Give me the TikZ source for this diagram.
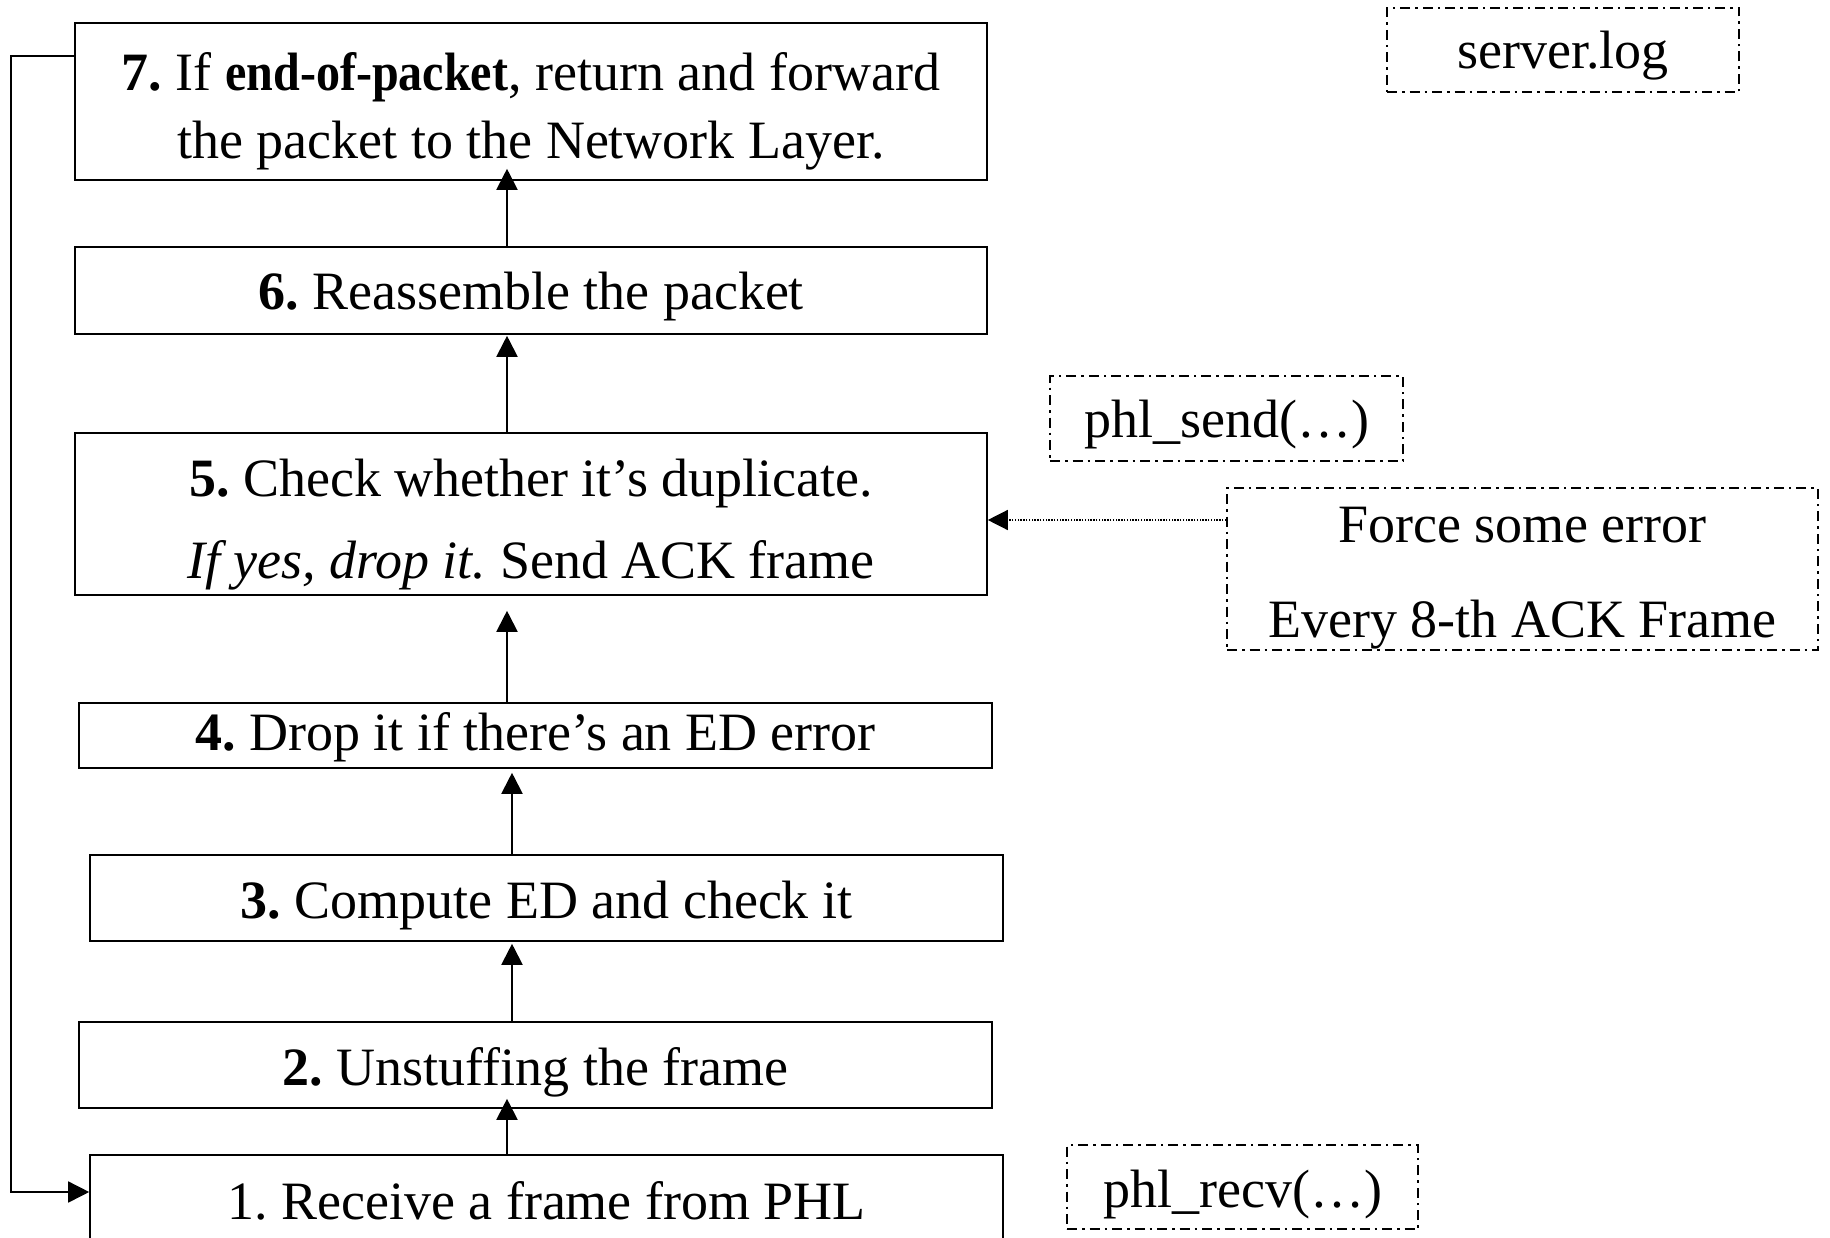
\documentclass[tikz,border=0pt]{standalone}
\usepackage{fontspec}
\usepackage{graphicx}
\setmainfont{Liberation Serif}
\usetikzlibrary{arrows.meta}
\frenchspacing

\tikzset{
  txt/.style={inner sep=0pt, align=center, font=\fontsize{54}{68}\selectfont},
  stepbox/.style={draw, line width=1.6pt, inner sep=0pt},
  notebox/.style={draw, line width=1.6pt, inner sep=0pt,
    dash pattern=on 10pt off 5pt on 2.5pt off 5pt},
  flow/.style={line width=2pt, -{Triangle[length=21pt,width=21pt]}},
  hint/.style={line width=1.4pt, dash pattern=on 1.4pt off 1.4pt,
    -{Triangle[length=20pt,width=20pt]}}
}

\begin{document}
\begin{tikzpicture}[x=1pt, y=-1pt]
\path[use as bounding box, clip] (0,0) rectangle (1830,1238);
\fill[white] (0,0) rectangle (1830,1238);

% processing steps, bottom to top (label text sits slightly below centre)
\node[stepbox, minimum width=913pt, minimum height=90pt,
  label={[txt, name=t1, yshift=-1pt]center:1. Receive a frame from PHL}]
  (s1) at (546.5,1200) {};
\node[stepbox, minimum width=913pt, minimum height=86pt,
  label={[txt, name=t2, yshift=-7pt]center:\textbf{2.} Unstuffing the frame}]
  (s2) at (535.5,1065) {};
\node[stepbox, minimum width=913pt, minimum height=86pt,
  label={[txt, name=t3, yshift=-8pt]center:\textbf{3.} Compute ED and check it}]
  (s3) at (546.5,898) {};
\node[stepbox, minimum width=913pt, minimum height=65pt,
  label={[txt, name=t4, yshift=-2pt]center:\textbf{4.} Drop it if there’s an ED error}]
  (s4) at (535.5,735.5) {};
\node[stepbox, minimum width=912pt, minimum height=162pt,
  label={[txt, name=t5, yshift=-11pt, font=\fontsize{54}{82}\selectfont]center:%
    \textbf{5.} Check whether it’s duplicate.\\ \textit{If yes, drop it.} Send ACK frame}]
  (s5) at (531,514) {};
\node[stepbox, minimum width=912pt, minimum height=87pt,
  label={[txt, name=t6, yshift=-6pt]center:\textbf{6.} Reassemble the packet}]
  (s6) at (531,290.5) {};
\node[stepbox, minimum width=912pt, minimum height=157pt,
  label={[txt, name=t7, yshift=-10pt]center:%
    \textbf{7.} If \scalebox{0.89}[1]{\textbf{end-of-packet}}, return and forward\\ the packet to the Network Layer.}]
  (s7) at (531,101.5) {};

% side notes
\node[notebox, minimum width=352pt, minimum height=84pt,
  label={[txt, name=tlog, yshift=-6pt]center:server.log}] (log) at (1563,50) {};
\node[notebox, minimum width=353pt, minimum height=85pt,
  label={[txt, name=tsend, yshift=-6pt]center:phl\_send(…)}] (send) at (1226.5,418.5) {};
\node[notebox, minimum width=591pt, minimum height=162pt,
  label={[txt, name=tforce, yshift=-9pt, font=\fontsize{54}{95}\selectfont]center:%
    Force some error\\ Every 8-th ACK Frame}] (force) at (1522.5,569) {};
\node[notebox, minimum width=351pt, minimum height=84pt,
  label={[txt, name=trecv, yshift=-8pt]center:phl\_recv(…)}] (recv) at (1242.5,1187) {};

% flow between steps
\draw[flow] ([xshift=-39.5pt]s1.north) -- ([xshift=-28.5pt,yshift=10pt]s2.south);
\draw[flow] ([xshift=-23.5pt]s2.north) -- ([xshift=-34.5pt,yshift=-2pt]s3.south);
\draw[flow] ([xshift=-34.5pt]s3.north) -- ([xshift=-23.5pt,yshift=-4pt]s4.south);
\draw[flow] ([xshift=-28.5pt]s4.north) -- ([xshift=-24pt,yshift=-15pt]s5.south);
\draw[flow] ([xshift=-24pt]s5.north) -- ([xshift=-24pt,yshift=-1pt]s6.south);
\draw[flow] ([xshift=-24pt]s6.north) -- ([xshift=-24pt,yshift=12pt]s7.south);

% loop back to the first step
\draw[flow, line width=1.6pt] ([yshift=45.5pt]s7.west) -- ++(-63,0)
  |- ([yshift=8pt]s1.west);

% error injection hint
\draw[hint] ([yshift=49pt]force.west) -- ([yshift=-6pt]s5.east);
\end{tikzpicture}
\end{document}
